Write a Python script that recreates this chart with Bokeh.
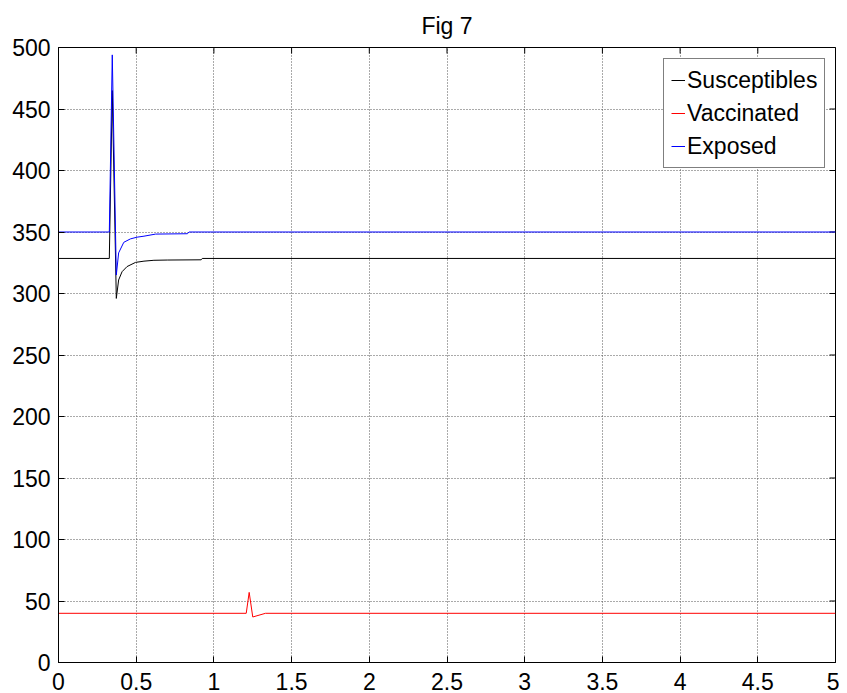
import math
from bokeh.plotting import figure
from bokeh.models import Range1d, Legend, LegendItem, FixedTicker
from bokeh.embed import file_html
from bokeh.resources import INLINE

# ---- data ----
t_sus = [0, 0.327, 0.346, 0.372, 0.387, 0.409, 0.441, 0.496, 0.55, 0.614, 0.70, 0.918, 0.925, 5]
sus = [328.5, 328.5, 465, 296, 311, 317.7, 321.9, 325.3, 326.3, 327.0, 327.2, 327.4, 328.5, 328.5]

t_vac = [0, 1.208, 1.227, 1.250, 1.332, 5]
vac = [40, 40, 57, 37, 40, 40]

t_exp = [0, 0.327, 0.346, 0.372, 0.387, 0.42, 0.463, 0.506, 0.55, 0.625, 0.83, 0.84, 5]
exp_ = [350, 350, 494, 315, 333, 341.6, 344.4, 345.8, 346.6, 348.3, 348.6, 350, 350]

x_ticks = [0, 0.5, 1, 1.5, 2, 2.5, 3, 3.5, 4, 4.5, 5]
x_tick_labels = ["0", "0.5", "1", "1.5", "2", "2.5", "3", "3.5", "4", "4.5", "5"]
y_ticks = [0, 50, 100, 150, 200, 250, 300, 350, 400, 450, 500]
y_tick_labels = ["0", "50", "100", "150", "200", "250", "300", "350", "400", "450", "500"]

title_text = "Fig 7"
series_names = ["Susceptibles", "Vaccinated", "Exposed"]

X_MIN, X_MAX = 0, 5
Y_MIN, Y_MAX = 0, 500

FONT = "Liberation Sans"
FS = "23px"

p = figure(width=839, height=693, output_backend="svg", toolbar_location=None,
           x_range=Range1d(X_MIN, X_MAX), y_range=Range1d(Y_MIN, Y_MAX),
           min_border_left=58, min_border_right=4, min_border_top=47, min_border_bottom=31,
           title=title_text)
p.title.align = "center"
p.title.text_font = FONT
p.title.text_font_size = FS
p.title.text_font_style = "normal"
p.title.text_color = "black"
p.title.standoff = 17

p.outline_line_color = "black"
p.outline_line_width = 1
p.background_fill_color = "white"
p.border_fill_color = "white"

for ax, ticks, labels in ((p.xaxis[0], x_ticks, x_tick_labels), (p.yaxis[0], y_ticks, y_tick_labels)):
    ax.ticker = FixedTicker(ticks=ticks)
    ax.major_label_overrides = {t: l for t, l in zip(ticks, labels)}
    ax.major_tick_in = 6
    ax.major_tick_out = 0
    ax.minor_tick_in = 0
    ax.minor_tick_out = 0
    ax.axis_line_color = "black"
    ax.major_tick_line_color = "black"
    ax.major_label_text_font = FONT
    ax.major_label_text_font_size = FS
    ax.major_label_text_color = "black"
p.xaxis[0].major_label_standoff = 10
p.yaxis[0].major_label_standoff = 8

p.xgrid.ticker = FixedTicker(ticks=x_ticks)
p.ygrid.ticker = FixedTicker(ticks=y_ticks)
for g in (p.xgrid[0], p.ygrid[0]):
    g.grid_line_color = "#555555"
    g.grid_line_dash = "1 2"
    g.grid_line_width = 1

# inward tick marks on the top and right edges (MATLAB box style); clipped by the frame
p.scatter(x=x_ticks, y=[Y_MAX] * len(x_ticks), marker="dash", angle=math.pi / 2,
          size=12, line_color="black", line_width=1)
p.scatter(x=[X_MAX] * len(y_ticks), y=y_ticks, marker="dash",
          size=12, line_color="black", line_width=1)

r_s = p.line(t_sus, sus, line_color="black", line_width=1)
r_v = p.line(t_vac, vac, line_color="red", line_width=1)
r_e = p.line(t_exp, exp_, line_color="blue", line_width=1)

legend = Legend(items=[LegendItem(label=series_names[0], renderers=[r_s]),
                       LegendItem(label=series_names[1], renderers=[r_v]),
                       LegendItem(label=series_names[2], renderers=[r_e])],
                location=(605, 494))
legend.label_text_font = FONT
legend.label_text_font_size = FS
legend.label_text_color = "black"
legend.border_line_color = "black"
legend.border_line_width = 1
legend.background_fill_color = "white"
legend.background_fill_alpha = 1.0
legend.glyph_width = 14
legend.glyph_height = 28
legend.label_height = 28
legend.label_standoff = 2
legend.spacing = 5
legend.padding = 7
legend.margin = 0
p.add_layout(legend, "center")

open("out.html", "w").write(file_html(p, INLINE))
